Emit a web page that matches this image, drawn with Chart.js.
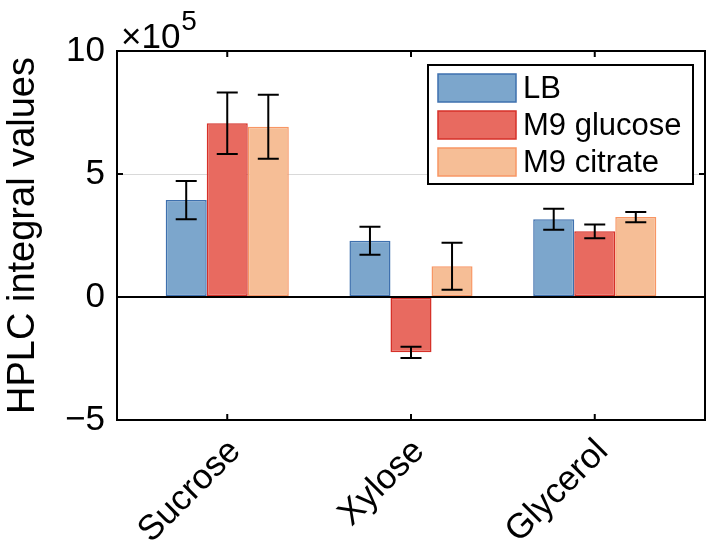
<!DOCTYPE html>
<html>
<head>
<meta charset="utf-8">
<script src="https://cdn.jsdelivr.net/npm/chart.js@4.4.1/dist/chart.umd.min.js"></script>
<style>
  html, body { margin: 0; padding: 0; background: #fff; }
  #wrap { width: 709px; height: 543px; position: relative; }
</style>
</head>
<body>
<div id="wrap"><canvas id="c" width="709" height="543"></canvas></div>
<script>
// ---- data ----
const categories = ["Sucrose", "Xylose", "Glycerol"];
const seriesNames = ["LB", "M9 glucose", "M9 citrate"];
const lbValues       = [394000, 229000, 316000];
const lbErrors       = [78000, 57000, 43000];
const glucoseValues  = [706000, -225000, 267000];
const glucoseErrors  = [125000, 23000, 28000];
const citrateValues  = [692000, 125000, 325000];
const citrateErrors  = [130000, 96000, 21000];
const yTicks = [-500000, 0, 500000, 1000000];
const exponent = 5;

const fills   = ["rgba(124,166,204,1)", "rgba(232,106,96,1)", "rgba(246,190,150,1)"];
const borders = ["rgb(62,112,174)", "rgb(214,48,40)", "rgb(248,150,100)"];
const FONT = "'Liberation Sans', Arial, Helvetica, sans-serif";

function toPoints(vals) { return vals.map((v, i) => ({ x: i + 1, y: v })); }
const valueSets = [lbValues, glucoseValues, citrateValues];
const errorSets = [lbErrors, glucoseErrors, citrateErrors];

const datasets = valueSets.map((vals, k) => ({
  label: seriesNames[k],
  data: toPoints(vals),
  errors: errorSets[k],
  backgroundColor: fills[k],
  borderColor: borders[k],
  borderWidth: 1.5,
  borderSkipped: false,
  categoryPercentage: 0.67,
  barPercentage: 1.0
}));

const fmt = v => (v < 0 ? "\u2212" : "") + Math.abs(v / Math.pow(10, exponent));

const decorPlugin = {
  id: "decor",
  afterDatasetsDraw(chart) {
    const ctx = chart.ctx;
    const ys = chart.scales.y;
    chart.data.datasets.forEach((ds, di) => {
      const meta = chart.getDatasetMeta(di);
      meta.data.forEach((bar, i) => {
        const v = ds.data[i].y, e = ds.errors[i];
        const yTop = ys.getPixelForValue(v + e);
        const yBot = ys.getPixelForValue(v - e);
        const x = bar.x, cap = 10.5;
        ctx.save();
        ctx.strokeStyle = "#000";
        ctx.lineWidth = 2;
        ctx.beginPath();
        ctx.moveTo(x, yTop); ctx.lineTo(x, yBot);
        ctx.moveTo(x - cap, yTop); ctx.lineTo(x + cap, yTop);
        ctx.moveTo(x - cap, yBot); ctx.lineTo(x + cap, yBot);
        ctx.stroke();
        ctx.restore();
      });
    });
  },
  afterDraw(chart) {
    const ctx = chart.ctx;
    const a = chart.chartArea;
    const xs = chart.scales.x, ys = chart.scales.y;
    ctx.save();
    ctx.strokeStyle = "#000";
    ctx.lineWidth = 2;
    ctx.strokeRect(a.left, a.top, a.right - a.left, a.bottom - a.top);
    const tl = 6;
    ctx.beginPath();
    [1, 2, 3].forEach(v => {
      const x = xs.getPixelForValue(v);
      ctx.moveTo(x, a.bottom); ctx.lineTo(x, a.bottom - tl);
      ctx.moveTo(x, a.top); ctx.lineTo(x, a.top + tl);
    });
    yTicks.forEach(v => {
      const y = ys.getPixelForValue(v);
      ctx.moveTo(a.left, y); ctx.lineTo(a.left + tl, y);
      ctx.moveTo(a.right, y); ctx.lineTo(a.right - tl, y);
    });
    ctx.stroke();
    // exponent label
    ctx.fillStyle = "#000";
    ctx.textBaseline = "alphabetic";
    ctx.textAlign = "left";
    ctx.font = "35px " + FONT;
    const base = "\u00d710";
    ctx.fillText(base, a.left + 4, a.top - 3);
    const w = ctx.measureText(base).width;
    ctx.font = "28px " + FONT;
    ctx.fillText(String(exponent), a.left + 4 + w + 1, a.top - 21);
    // legend
    const L = { right: a.right - 12, top: a.top + 14, w: 265, h: 119 };
    const lx = L.right - L.w, ly = L.top;
    ctx.fillStyle = "#fff";
    ctx.fillRect(lx, ly, L.w, L.h);
    ctx.lineWidth = 2;
    ctx.strokeStyle = "#000";
    ctx.strokeRect(lx, ly, L.w, L.h);
    chart.data.datasets.forEach((ds, k) => {
      const sy = ly + 9 + k * 37;
      ctx.fillStyle = ds.backgroundColor;
      ctx.fillRect(lx + 10, sy, 78, 28);
      ctx.lineWidth = 1.5;
      ctx.strokeStyle = ds.borderColor;
      ctx.strokeRect(lx + 10, sy, 78, 28);
      ctx.fillStyle = "#000";
      ctx.font = "31px " + FONT;
      ctx.textBaseline = "middle";
      ctx.fillText(ds.label, lx + 95, sy + 15);
    });
    ctx.restore();
  }
};

new Chart(document.getElementById("c"), {
  type: "bar",
  data: { datasets },
  options: {
    responsive: false,
    animation: false,
    layout: { padding: { top: 51, right: 4, left: 0, bottom: 0 } },
    plugins: { legend: { display: false }, tooltip: { enabled: false } },
    scales: {
      x: {
        type: "linear",
        min: 0.4, max: 3.6,
        offset: false,
        afterBuildTicks: s => { s.ticks = [1, 2, 3].map(v => ({ value: v })); },
        afterFit: s => { s.height = 123; },
        grid: { display: false, drawTicks: false },
        border: { display: false },
        ticks: {
          autoSkip: false,
          maxRotation: 45, minRotation: 45,
          padding: 11,
          labelOffset: 8,
          color: "#000",
          font: { family: FONT, size: 35 },
          callback: v => categories[v - 1]
        }
      },
      y: {
        min: -500000, max: 1000000,
        afterBuildTicks: s => { s.ticks = yTicks.map(v => ({ value: v })); },
        afterFit: s => { s.width = 117; },
        grid: {
          drawTicks: false,
          color: c => c.tick && c.tick.value === 0 ? "#000" : (c.tick && c.tick.value === 500000 ? "rgba(0,0,0,0.15)" : "rgba(0,0,0,0)"),
          lineWidth: c => c.tick && c.tick.value === 0 ? 2 : 1
        },
        border: { display: false },
        ticks: {
          padding: 12,
          color: "#000",
          font: { family: FONT, size: 35 },
          callback: v => fmt(v)
        },
        title: {
          display: true,
          text: "HPLC integral values",
          color: "#000",
          font: { family: FONT, size: 38 },
          padding: { top: 1, bottom: 0 }
        }
      }
    }
  },
  plugins: [decorPlugin]
});
</script>
</body>
</html>
